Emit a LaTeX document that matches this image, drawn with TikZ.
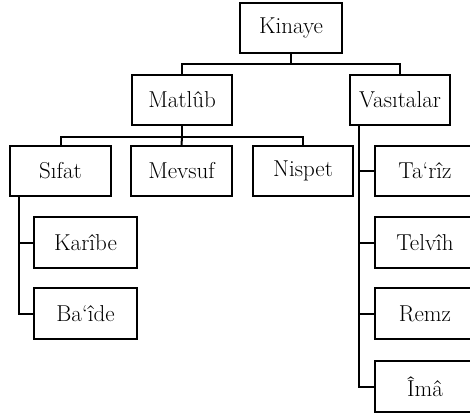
\documentclass[tikz,border=0pt]{standalone}
\usepackage{fontspec}
\usetikzlibrary{calc}
\tikzset{
  box/.style={draw, line width=2pt, rectangle, minimum width=101pt, minimum height=50pt, inner sep=0pt, font=\fontsize{23}{27}\selectfont},
  conn/.style={line width=2pt}
}
\begin{document}
\begin{tikzpicture}[x=1pt,y=1pt]
\useasboundingbox (0,0) rectangle (470,-413);
\clip (0,0) rectangle (470,-413);
\node[box, minimum width=102pt] (kin) at (291,-28) {Kinaye};
\node[box, minimum width=100pt] (mat) at (182,-100) {Matlûb};
\node[box, minimum width=100pt] (vas) at (400,-100) {Vasıtalar};
\node[box] (sif) at (60.5,-171) {Sıfat};
\node[box] (mev) at (181.5,-171) {Mevsuf};
\node[box, minimum width=100pt] (nis) at (303,-171) {Nispet};
\node[box, minimum width=100pt] (tar) at (425,-171) {Ta‘rîz};
\node[box, minimum width=103pt, minimum height=51pt] (kar) at (85.5,-242.5) {Karîbe};
\node[box, minimum width=103pt, minimum height=51pt] (bai) at (85.5,-313.5) {Ba‘îde};
\node[box, minimum width=100pt, minimum height=51pt] (tel) at (425,-242.5) {Telvîh};
\node[box, minimum width=100pt, minimum height=51pt] (rem) at (425,-313.5) {Remz};
\node[box, minimum width=100pt, minimum height=51pt] (ima) at (425,-386.5) {Îmâ};
\coordinate (k1) at ($(kin.south)+(0,-10)$);
\draw[conn] (kin.south) -- (k1) -| (mat.north);
\draw[conn] (k1) -| (vas.north);
\coordinate (m1) at ($(mat.south)+(0,-11)$);
\draw[conn] (mat.south) -- (m1) -| (sif.north);
\draw[conn] (m1) -- (mev.north);
\draw[conn] (m1) -| (nis.north);
\coordinate (s1) at ($(sif.south west)+(10,0)$);
\draw[conn] (s1) |- (kar.west);
\draw[conn] (s1) |- (bai.west);
\coordinate (v1) at ($(vas.south west)+(10,0)$);
\draw[conn] (v1) |- (tar.west);
\draw[conn] (v1) |- (tel.west);
\draw[conn] (v1) |- (rem.west);
\draw[conn] (v1) |- (ima.west);
\end{tikzpicture}
\end{document}
